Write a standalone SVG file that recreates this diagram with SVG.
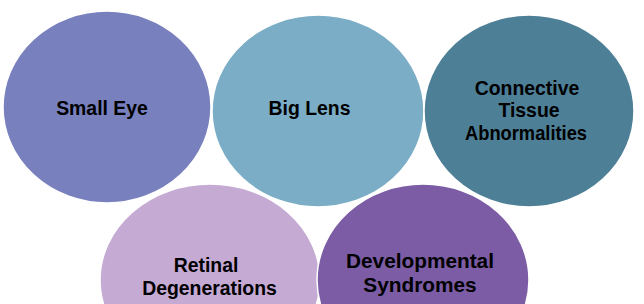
<svg xmlns="http://www.w3.org/2000/svg" width="644" height="304" viewBox="0 0 644 304">
<style>
.c{stroke:#ffffff;stroke-width:1.5}
.t{font-family:"Liberation Sans",Arial,sans-serif;font-weight:bold;font-size:19.4px;fill:#000000;text-anchor:middle}
.big{font-size:20.8px}
</style>
<rect width="644" height="304" fill="#ffffff"/>
<g id="small-eye">
<ellipse class="c" cx="107" cy="107" rx="104" ry="96" fill="#7880BE"/>
<text class="t" x="102" y="115">Small Eye</text>
</g>
<g id="big-lens">
<ellipse class="c" cx="318" cy="111" rx="106" ry="96" fill="#7BAEC6"/>
<text class="t" x="309.5" y="115">Big Lens</text>
</g>
<g id="connective-tissue">
<ellipse class="c" cx="529" cy="111" rx="105" ry="96" fill="#4D7F97"/>
<text class="t" x="527" y="95">Connective</text>
<text class="t" x="529" y="117">Tissue</text>
<text class="t" x="526" y="140" textLength="122" lengthAdjust="spacingAndGlyphs">Abnormalities</text>
</g>
<g id="retinal-degenerations">
<ellipse class="c" cx="210" cy="280" rx="110" ry="96" fill="#C5AAD4"/>
<text class="t" x="206" y="272">Retinal</text>
<text class="t" x="209.5" y="295">Degenerations</text>
</g>
<g id="developmental-syndromes">
<ellipse class="c" cx="423" cy="280" rx="106" ry="96" fill="#7B5CA5"/>
<text class="t big" x="420" y="268">Developmental</text>
<text class="t big" x="420" y="292">Syndromes</text>
</g>
<g id="connectors"></g>
</svg>
